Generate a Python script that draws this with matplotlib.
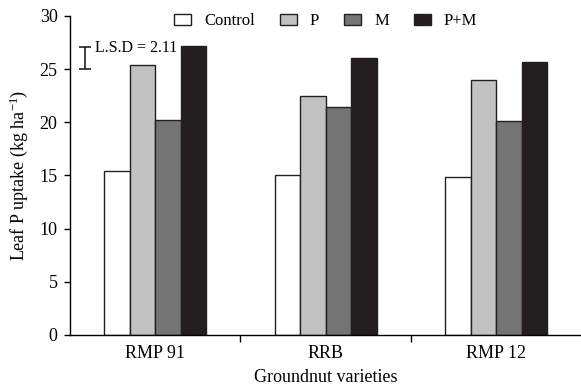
import numpy as np
import matplotlib
matplotlib.use("Agg")
import matplotlib.pyplot as plt
from matplotlib.patches import Patch

plt.rcParams['font.family'] = ['Liberation Serif', 'DejaVu Serif']
plt.rcParams['mathtext.fontset'] = 'custom'
plt.rcParams['mathtext.rm'] = 'Liberation Serif'
plt.rcParams['mathtext.it'] = 'Liberation Serif:italic'

varieties = ["RMP 91", "RRB", "RMP 12"]
treatments = ["Control", "P", "M", "P+M"]
control = [15.4, 15.0, 14.9]
p_only = [25.4, 22.5, 24.0]
m_only = [20.2, 21.4, 20.1]
p_and_m = [27.2, 26.0, 25.7]
lsd = 2.11

colors = ["#ffffff", "#c2c2c2", "#747474", "#231f20"]
series = [control, p_only, m_only, p_and_m]

fig = plt.figure(figsize=(5.81, 3.89), dpi=100)
ax = fig.add_axes([0.1205, 0.139, 0.88, 0.82])

x = np.arange(len(varieties))
w = 0.15
for i, vals in enumerate(series):
    ax.bar(x + (i - 1.5) * w, vals, w, color=colors[i], edgecolor="#231f20",
           linewidth=1.0, label=treatments[i])

ax.set_xlim(-0.5, 2.5)
ax.set_ylim(0, 30)
ax.set_yticks(range(0, 31, 5))
ax.set_xticks([0.5, 1.5], minor=False)
ax.set_xticks(x, minor=True)
ax.set_xticklabels([])
ax.set_xticklabels(varieties, minor=True)
ax.tick_params(axis="x", which="minor", length=0, labelsize=13, pad=7)
ax.tick_params(axis="x", which="major", length=5, width=1, direction="out")
ax.tick_params(axis="y", length=4, width=1, direction="out", labelsize=13, pad=5)
for s in ["top", "right"]:
    ax.spines[s].set_visible(False)
ax.spines["left"].set_linewidth(1)
ax.spines["bottom"].set_linewidth(1)

ax.set_xlabel("Groundnut varieties", fontsize=13, labelpad=5)
ax.set_ylabel("Leaf P uptake (kg ha$^{-1}$)", fontsize=13, labelpad=7)

# LSD bar
ax.errorbar(-0.41, 25 + lsd / 2, yerr=lsd / 2, color="#231f20", capsize=4,
            elinewidth=1.2, capthick=1.2)
ax.text(-0.355, 27.0, "L.S.D = 2.11", fontsize=11.5, va="center", ha="left")

handles = [Patch(facecolor=c, edgecolor="#231f20", linewidth=1) for c in colors]
ax.legend(handles, treatments, loc="upper center", bbox_to_anchor=(0.50, 1.055),
          ncol=4, frameon=False, fontsize=12, handlelength=1.0, handleheight=0.6,
          columnspacing=1.5, handletextpad=0.8)

fig.savefig("out.png", dpi=100)
